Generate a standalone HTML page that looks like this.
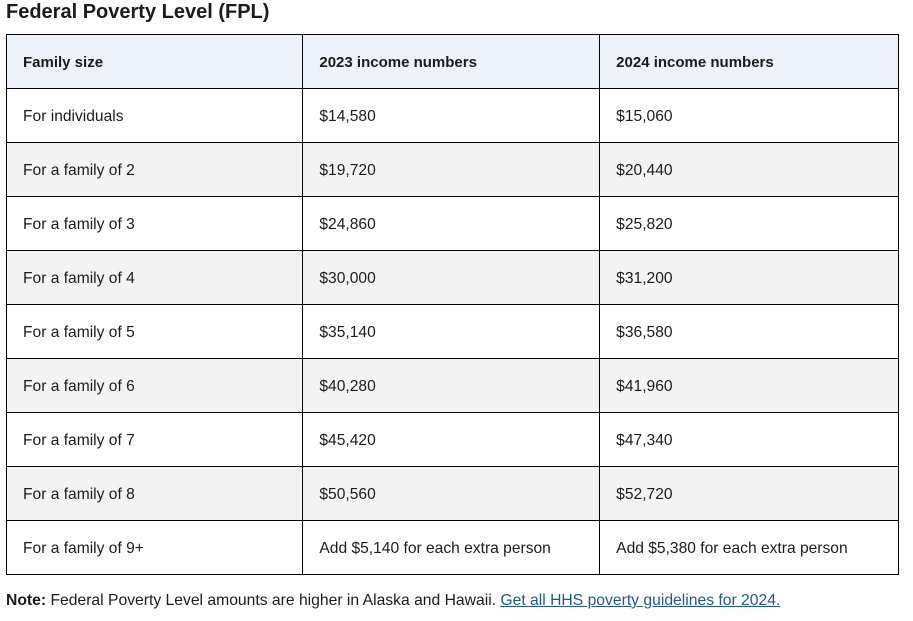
<!DOCTYPE html>
<html><head><style>
body{margin:0;width:913px;height:621px;background:#fff;font-family:"Liberation Sans",sans-serif;color:#1b1b1b;position:relative;overflow:hidden}
.t{position:absolute;left:6px;top:1px;font-size:20px;font-weight:bold;color:#1b1b1b;white-space:nowrap}
table{position:absolute;left:6px;top:34px;border-collapse:collapse;width:893px}
tr{height:54px}
td{border:1px solid #000;height:51px;padding:2px 0 0 16px;line-height:18px;font-size:15.6px;vertical-align:middle;white-space:nowrap}
tr.h td{background:#ecf1fa;font-weight:bold;font-size:15px}
tr.g td{background:#f3f3f3}
.n{position:absolute;left:6px;top:592px;font-size:15.7px;white-space:nowrap}
.n a{color:#1a5a96;text-decoration:underline}
</style></head><body>
<div class="t">Federal Poverty Level (FPL)</div>
<table>
<colgroup><col style="width:297px"><col style="width:297px"><col style="width:299px"></colgroup>
<tr class="h"><td>Family size</td><td>2023 income numbers</td><td>2024 income numbers</td></tr>
<tr><td>For individuals</td><td>$14,580</td><td>$15,060</td></tr>
<tr class="g"><td>For a family of 2</td><td>$19,720</td><td>$20,440</td></tr>
<tr><td>For a family of 3</td><td>$24,860</td><td>$25,820</td></tr>
<tr class="g"><td>For a family of 4</td><td>$30,000</td><td>$31,200</td></tr>
<tr><td>For a family of 5</td><td>$35,140</td><td>$36,580</td></tr>
<tr class="g"><td>For a family of 6</td><td>$40,280</td><td>$41,960</td></tr>
<tr><td>For a family of 7</td><td>$45,420</td><td>$47,340</td></tr>
<tr class="g"><td>For a family of 8</td><td>$50,560</td><td>$52,720</td></tr>
<tr><td>For a family of 9+</td><td>Add $5,140 for each extra person</td><td>Add $5,380 for each extra person</td></tr>
</table>
<div class="n"><b>Note:</b> Federal Poverty Level amounts are higher in Alaska and Hawaii. <a>Get all HHS poverty guidelines for 2024.</a></div>
</body></html>
